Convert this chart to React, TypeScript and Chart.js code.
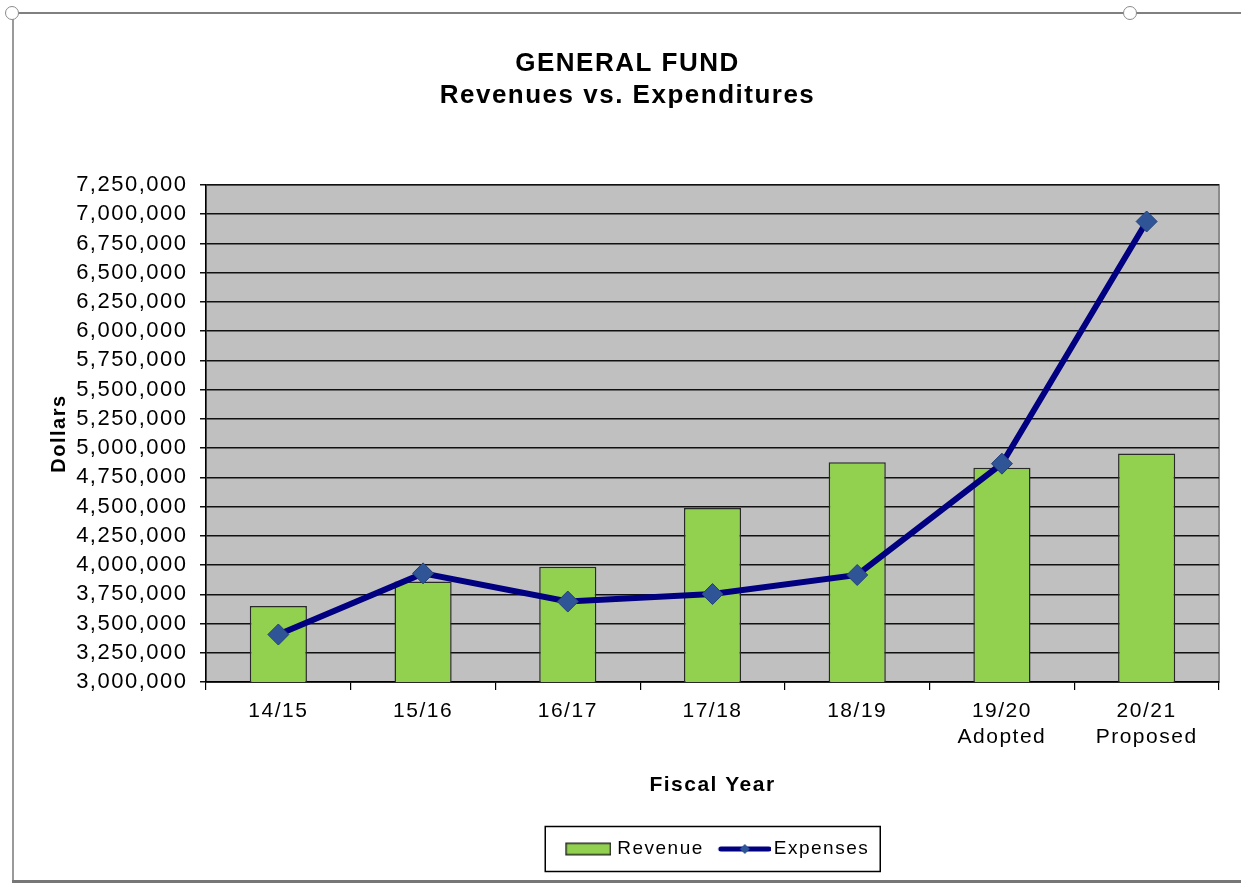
import React, { useEffect, useRef } from 'react';
import { Chart, registerables } from 'chart.js';

Chart.register(...registerables);

// ---- Data ----
const fiscalYears: (string | string[])[] = [
  '14/15',
  '15/16',
  '16/17',
  '17/18',
  '18/19',
  ['19/20', 'Adopted'],
  ['20/21', 'Proposed'],
];
const revenue = [3650000, 3860000, 3985000, 4487000, 4880000, 4833000, 4953000];
const expenses = [3406000, 3929000, 3688000, 3752000, 3915000, 4867000, 6938000];
const yMin = 3000000;
const yMax = 7250000;
const yStep = 250000;
const titleLines = ['GENERAL FUND', 'Revenues vs. Expenditures'];
const seriesNames = ['Revenue', 'Expenses'];
const yAxisTitle = 'Dollars';
const xAxisTitle = 'Fiscal Year';

const FONT = "'Liberation Sans', Arial, sans-serif";
const SPACING = '1.5px';
const GREEN = '#92D050';
const NAVY = '#000080';
const MARKER = '#2F5597';

function makeRevenueSymbol(): HTMLCanvasElement {
  const c = document.createElement('canvas');
  c.width = 59;
  c.height = 15;
  const g = c.getContext('2d')!;
  g.fillStyle = GREEN;
  g.fillRect(59 - 46, 1, 45, 13);
  g.strokeStyle = '#2a2a2a';
  g.lineWidth = 1.5;
  g.strokeRect(59 - 46 + 0.75, 1.75, 44.5, 11.5);
  return c;
}

function makeExpensesSymbol(): HTMLCanvasElement {
  const c = document.createElement('canvas');
  c.width = 65;
  c.height = 16;
  const g = c.getContext('2d')!;
  g.strokeStyle = NAVY;
  g.lineWidth = 5;
  g.lineCap = 'round';
  g.beginPath();
  g.moveTo(15, 8);
  g.lineTo(63, 8);
  g.stroke();
  const cx = 39;
  const r = 5;
  g.beginPath();
  g.moveTo(cx - r, 8);
  g.lineTo(cx, 8 - r);
  g.lineTo(cx + r, 8);
  g.lineTo(cx, 8 + r);
  g.closePath();
  g.fillStyle = MARKER;
  g.fill();
  return c;
}

const framePlugin = {
  id: 'framePlugin',
  beforeInit(chart: any) {
    chart.ctx.letterSpacing = SPACING;
  },
  beforeUpdate(chart: any) {
    chart.ctx.letterSpacing = SPACING;
  },
  beforeLayout(chart: any) {
    chart.ctx.letterSpacing = SPACING;
  },
  beforeDraw(chart: any) {
    const { ctx, chartArea: a } = chart;
    ctx.letterSpacing = SPACING;
    ctx.save();
    ctx.fillStyle = '#c0c0c0';
    ctx.fillRect(a.left, a.top, a.right - a.left, a.bottom - a.top);
    ctx.strokeStyle = '#8c8c8c';
    ctx.lineWidth = 2;
    ctx.strokeRect(a.left, a.top, a.right - a.left, a.bottom - a.top);
    ctx.restore();
  },
  afterDraw(chart: any) {
    const lg = chart.legend;
    if (!lg || !lg.legendHitBoxes || !lg.legendHitBoxes.length) return;
    const hb = lg.legendHitBoxes;
    const first = hb[0];
    const last = hb[hb.length - 1];
    const cy = first.top + first.height / 2;
    const left = first.left - 10.5;
    const right = last.left + last.width + 11;
    const ctx = chart.ctx;
    ctx.save();
    ctx.strokeStyle = '#000';
    ctx.lineWidth = 1.5;
    ctx.strokeRect(left, cy - 22.5, right - left, 45);
    ctx.restore();
  },
};

export default function App() {
  const canvasRef = useRef<HTMLCanvasElement | null>(null);

  useEffect(() => {
    const canvas = canvasRef.current;
    if (!canvas) return;
    const revSym = makeRevenueSymbol();
    const expSym = makeExpensesSymbol();

    const chart = new Chart(canvas, {
      type: 'bar',
      data: {
        labels: fiscalYears as any,
        datasets: [
          {
            type: 'bar',
            label: seriesNames[0],
            data: revenue,
            backgroundColor: GREEN,
            borderColor: '#2a2a2a',
            borderWidth: 1.5,
            barPercentage: 0.395,
            categoryPercentage: 1,
            order: 1,
          } as any,
          {
            type: 'line',
            label: seriesNames[1],
            data: expenses,
            borderColor: NAVY,
            borderWidth: 6,
            tension: 0,
            pointStyle: 'rectRot',
            pointRadius: 10.5,
            pointBackgroundColor: MARKER,
            pointBorderColor: '#23427a',
            pointBorderWidth: 1,
            order: 0,
          } as any,
        ],
      },
      options: {
        responsive: false,
        animation: false,
        events: [],
        layout: { padding: { top: 0, left: 0, right: 0, bottom: 11.5 } },
        plugins: {
          tooltip: { enabled: false },
          title: {
            display: true,
            text: titleLines,
            color: '#000',
            font: { family: FONT, size: 26, weight: 'bold', lineHeight: 32 / 26 },
            padding: { top: 33, bottom: 73 },
          },
          legend: {
            display: true,
            position: 'bottom',
            fullSize: false,
            labels: {
              usePointStyle: true,
              pointStyleWidth: 52,
              padding: 8.5,
              color: '#000',
              font: { family: FONT, size: 19 },
              generateLabels: () => [
                {
                  text: seriesNames[0],
                  pointStyle: revSym as any,
                  fillStyle: GREEN,
                  strokeStyle: '#2a2a2a',
                  lineWidth: 0,
                  hidden: false,
                  datasetIndex: 0,
                  fontColor: '#000',
                },
                {
                  text: seriesNames[1],
                  pointStyle: expSym as any,
                  fillStyle: NAVY,
                  strokeStyle: NAVY,
                  lineWidth: 0,
                  hidden: false,
                  datasetIndex: 1,
                  fontColor: '#000',
                },
              ],
            },
          },
        },
        scales: {
          x: {
            offset: true,
            grid: {
              display: true,
              offset: true,
              drawOnChartArea: false,
              drawTicks: true,
              tickLength: 8,
              color: '#000',
              lineWidth: 1.2,
            },
            border: { display: true, color: '#000', width: 1.5 },
            ticks: {
              color: '#000',
              font: { family: FONT, size: 21, lineHeight: 1.24 },
              padding: 8,
              maxRotation: 0,
              autoSkip: false,
            },
            title: {
              display: true,
              text: xAxisTitle,
              color: '#000',
              font: { family: FONT, size: 21, weight: 'bold' },
              padding: { top: 0, bottom: 33 },
            },
            afterFit(scale: any) {
              scale.height = 149;
            },
          },
          y: {
            min: yMin,
            max: yMax,
            ticks: {
              stepSize: yStep,
              autoSkip: false,
              color: '#000',
              font: { family: FONT, size: 22 },
              padding: 12.5,
              callback: (v: any) => Number(v).toLocaleString('en-US'),
            },
            grid: { color: '#111', lineWidth: 1.5, tickLength: 6, drawTicks: true },
            border: { display: true, color: '#000', width: 1.5 },
            title: {
              display: true,
              text: yAxisTitle,
              color: '#000',
              font: { family: FONT, size: 20, weight: 'bold' },
              padding: { top: 33.5, bottom: 0 },
            },
            afterFit(scale: any) {
              scale.width = 192;
            },
          },
          yRight: {
            position: 'right',
            display: true,
            min: yMin,
            max: yMax,
            grid: { display: false, drawOnChartArea: false, drawTicks: false },
            border: { display: false },
            ticks: { display: false },
            afterFit(scale: any) {
              scale.width = 22;
            },
          },
        },
      } as any,
      plugins: [framePlugin],
    });

    return () => {
      chart.destroy();
    };
  }, []);

  const handle = (cx: number, cy: number): React.CSSProperties => ({
    position: 'absolute',
    left: cx - 7,
    top: cy - 7,
    width: 14,
    height: 14,
    borderRadius: '50%',
    border: '1.5px solid #8a8a8a',
    background: '#fff',
    boxSizing: 'border-box',
  });

  return (
    <div
      style={{
        position: 'absolute',
        left: 0,
        top: 0,
        width: 1241,
        height: 884,
        background: '#fff',
        overflow: 'hidden',
      }}
    >
      <div style={{ position: 'absolute', left: 12, top: 12, width: 1229, height: 2, background: '#808080' }} />
      <div style={{ position: 'absolute', left: 12, top: 13, width: 2, height: 868, background: '#9a9a9a' }} />
      <div style={{ position: 'absolute', left: 12, top: 880, width: 1229, height: 3, background: '#777' }} />
      <div style={{ position: 'absolute', left: 14, top: 15, width: 1227, height: 865 }}>
        <canvas ref={canvasRef} width={1227} height={865} style={{ width: 1227, height: 865, display: 'block' }} />
      </div>
      <div style={handle(12, 13)} />
      <div style={handle(1130, 13)} />
    </div>
  );
}
